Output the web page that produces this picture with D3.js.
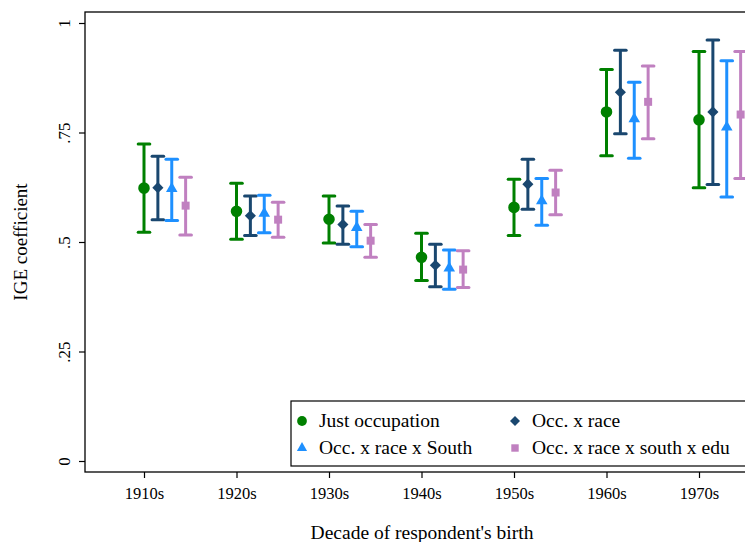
<!DOCTYPE html>
<html><head><meta charset="utf-8">
<script src="https://cdn.jsdelivr.net/npm/d3@7"></script>
<style>body{margin:0;background:#fff}svg{display:block}text{font-family:"Liberation Serif","Times New Roman",serif;fill:#000}</style>
</head><body><svg id="c" width="745" height="542"></svg>
<script>
const decades = [1910, 1920, 1930, 1940, 1950, 1960, 1970];
const tickLabels = ["1910s","1920s","1930s","1940s","1950s","1960s","1970s"];
const yTicks = [0, 0.25, 0.5, 0.75, 1];
const yTickLabels = ["0", ".25", ".5", ".75", "1"];
const seriesNames = ["Just occupation", "Occ. x race", "Occ. x race x South", "Occ. x race x south x edu"];
const seriesColors = ["#008000", "#1a476f", "#1e90ff", "#c080c0"];
const seriesShapes = ["circle", "diamond", "triangle", "square"];
const seriesOffsets = [0, 1.5, 3, 4.5];
// point estimates
const justOcc   = [0.623, 0.570, 0.552, 0.465, 0.579, 0.797, 0.779];
const occRace   = [0.624, 0.560, 0.540, 0.447, 0.632, 0.842, 0.797];
const occRaceS  = [0.622, 0.565, 0.533, 0.440, 0.594, 0.781, 0.762];
const occRaceSE = [0.583, 0.551, 0.503, 0.437, 0.613, 0.820, 0.791];
// upper CI
const justOccHi   = [0.724, 0.634, 0.605, 0.520, 0.643, 0.894, 0.935];
const occRaceHi   = [0.696, 0.605, 0.582, 0.495, 0.689, 0.938, 0.961];
const occRaceSHi  = [0.689, 0.607, 0.570, 0.482, 0.645, 0.865, 0.914];
const occRaceSEHi = [0.648, 0.591, 0.540, 0.480, 0.664, 0.902, 0.935];
// lower CI
const justOccLo   = [0.522, 0.506, 0.498, 0.412, 0.515, 0.697, 0.624];
const occRaceLo   = [0.551, 0.515, 0.495, 0.398, 0.575, 0.747, 0.631];
const occRaceSLo  = [0.549, 0.521, 0.489, 0.392, 0.538, 0.691, 0.603];
const occRaceSELo = [0.516, 0.511, 0.465, 0.396, 0.562, 0.736, 0.645];

const est = [justOcc, occRace, occRaceS, occRaceSE];
const hi = [justOccHi, occRaceHi, occRaceSHi, occRaceSEHi];
const lo = [justOccLo, occRaceLo, occRaceSLo, occRaceSELo];

const svg = d3.select("#c");
const x = d3.scaleLinear().domain([1910, 1970]).range([144, 699]);
const y = d3.scaleLinear().domain([0, 1]).range([461, 23]);
const frameL = 85, frameT = 12, frameB = 472, frameR = 780;

svg.append("rect").attr("x", frameL).attr("y", frameT).attr("width", frameR - frameL).attr("height", frameB - frameT)
  .attr("fill", "none").attr("stroke", "#000").attr("stroke-width", 1.3);

// y axis
const yAxis = d3.axisLeft(y).tickValues(yTicks).tickSize(6).tickFormat((d, i) => yTickLabels[i]);
const gy = svg.append("g").attr("transform", `translate(${frameL},0)`).call(yAxis);
gy.select(".domain").remove();
gy.selectAll(".tick line").attr("stroke", "#000").attr("stroke-width", 1.2);
gy.selectAll(".tick text").attr("x", null).attr("dy", null).attr("font-size", "17px")
  .attr("text-anchor", "middle").attr("transform", "translate(-15,0) rotate(-90)")
  .style("font-family", '"Liberation Serif",serif');

// x axis
const xAxis = d3.axisBottom(x).tickValues(decades).tickSize(6).tickFormat((d, i) => tickLabels[i]);
const gx = svg.append("g").attr("transform", `translate(0,${frameB})`).call(xAxis);
gx.select(".domain").remove();
gx.selectAll(".tick line").attr("stroke", "#000").attr("stroke-width", 1.2);
gx.selectAll(".tick text").attr("y", 27).attr("dy", null).attr("font-size", "16.5px")
  .style("font-family", '"Liberation Serif",serif');

// titles
svg.append("text").attr("x", 422).attr("y", 539).attr("text-anchor", "middle").attr("font-size", "19.5px")
  .text("Decade of respondent's birth");
svg.append("text").attr("transform", "translate(27,242) rotate(-90)").attr("text-anchor", "middle").attr("font-size", "19px")
  .text("IGE coefficient");

function symbolFor(shape, size) {
  const t = {circle: d3.symbolCircle, diamond: d3.symbolSquare, triangle: d3.symbolTriangle, square: d3.symbolSquare}[shape];
  return d3.symbol().type(t).size(size)();
}
const rot = shape => shape === "diamond" ? " rotate(45)" : "";
const symSize = {circle: 105, diamond: 62, triangle: 58, square: 64};

// error bars
seriesNames.forEach((name, s) => {
  const g = svg.append("g");
  const col = seriesColors[s];
  decades.forEach((d, i) => {
    const cx = x(d + seriesOffsets[s]);
    g.append("line").attr("x1", cx).attr("x2", cx).attr("y1", y(hi[s][i])).attr("y2", y(lo[s][i]))
      .attr("stroke", col).attr("stroke-width", 3);
    [hi[s][i], lo[s][i]].forEach(v => {
      g.append("line").attr("x1", cx - 5.8).attr("x2", cx + 5.8).attr("y1", y(v)).attr("y2", y(v))
        .attr("stroke", col).attr("stroke-width", 3).attr("stroke-linecap", "round");
    });
    g.append("path").attr("d", symbolFor(seriesShapes[s], symSize[seriesShapes[s]]))
      .attr("transform", `translate(${cx},${y(est[s][i])})${rot(seriesShapes[s])}`).attr("fill", col);
  });
});

// legend
const lg = svg.append("g");
lg.append("rect").attr("x", 291).attr("y", 401).attr("width", 480).attr("height", 65)
  .attr("fill", "#fff").attr("stroke", "#000").attr("stroke-width", 1.2);
const legPos = [[302, 421], [515, 421], [302, 448], [515, 448]];
seriesNames.forEach((name, s) => {
  const [lx, ly] = legPos[s];
  const legSize = {circle: 75, diamond: 50, triangle: 45, square: 55}[seriesShapes[s]];
  lg.append("path").attr("d", symbolFor(seriesShapes[s], legSize))
    .attr("transform", `translate(${lx},${ly})${rot(seriesShapes[s])}`).attr("fill", seriesColors[s]);
  lg.append("text").attr("x", lx + 17).attr("y", ly + 6).attr("font-size", "19.5px").text(name);
});
</script></body></html>
